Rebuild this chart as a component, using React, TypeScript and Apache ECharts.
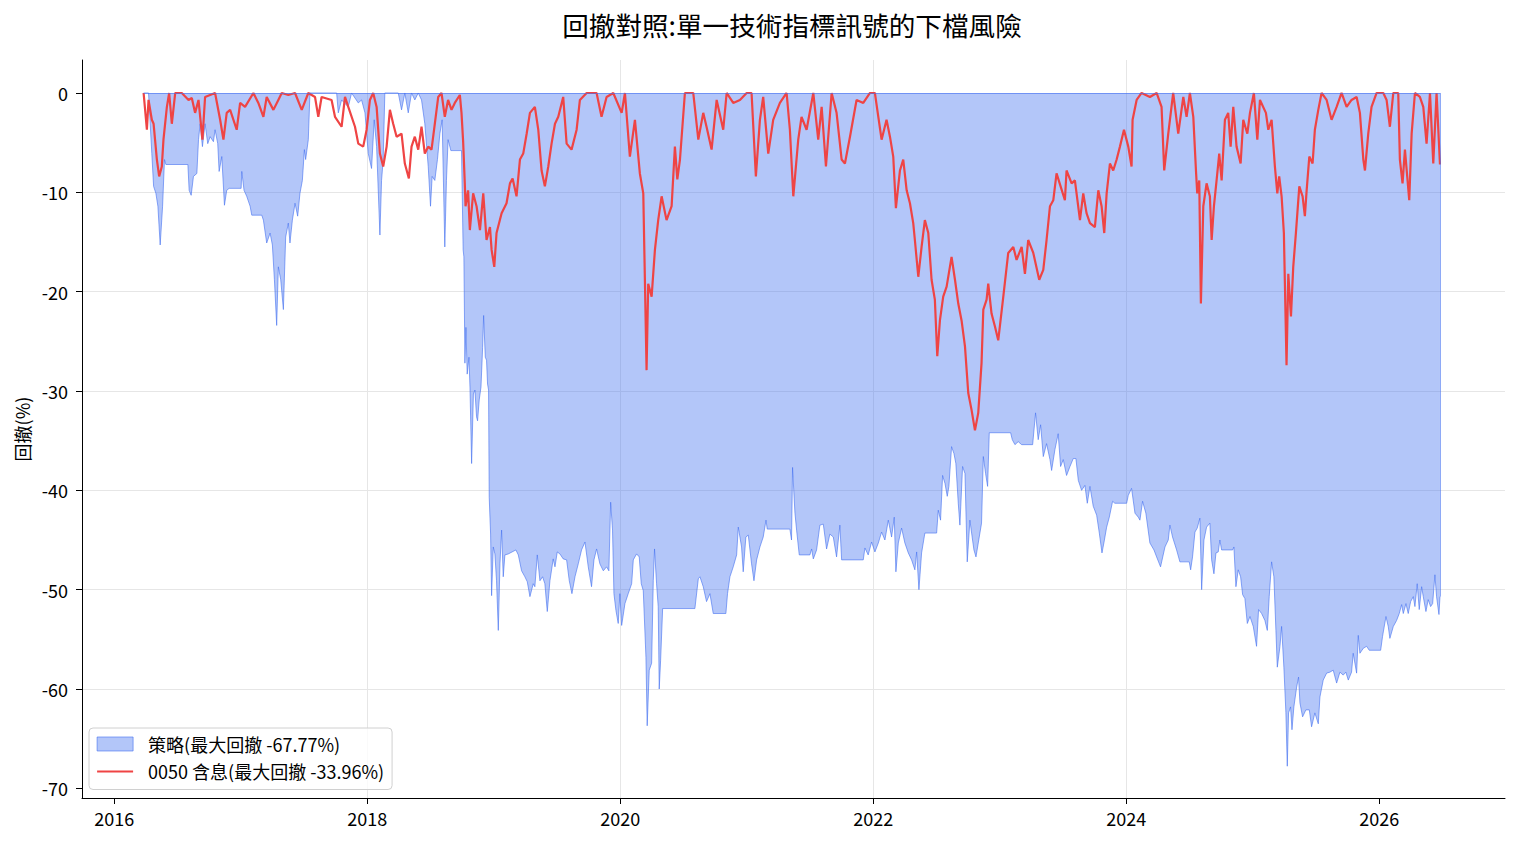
import React, { useEffect, useRef } from 'react';
import * as echarts from 'echarts';

const TITLE = '回撤對照:單一技術指標訊號的下檔風險';
const Y_NAME = '回撤(%)';
const STRATEGY_NAME = '策略(最大回撤 -67.77%)';
const BENCH_NAME = '0050 含息(最大回撤 -33.96%)';
const X_TICKS = [2016, 2018, 2020, 2022, 2024, 2026];
const Y_TICKS = [0, -10, -20, -30, -40, -50, -60, -70];

// [decimal year, drawdown %]
const STRATEGY: [number, number][] = [
  [2016.232,0],[2016.271,0],[2016.284,-3.1],[2016.297,-6.1],[2016.311,-9.4],[2016.329,-10.1],[2016.345,-11.4],[2016.363,-15.3],[2016.382,-11.4],[2016.397,-6.7],[2016.408,-7.2],[2016.582,-7.2],[2016.592,-9.8],[2016.608,-10.3],[2016.626,-8.4],[2016.653,-8.1],[2016.666,-4.7],[2016.679,-3.1],[2016.697,-5.4],[2016.718,-3.1],[2016.739,-5.1],[2016.758,-4.4],[2016.784,-4.9],[2016.797,-3.7],[2016.818,-5.1],[2016.829,-7.9],[2016.850,-6.4],[2016.871,-11.3],[2016.889,-9.8],[2016.908,-9.6],[2017.003,-9.6],[2017.008,-7.9],[2017.026,-9.8],[2017.047,-10.4],[2017.074,-11.4],[2017.087,-12.3],[2017.166,-12.3],[2017.179,-12.8],[2017.205,-15.1],[2017.232,-14.1],[2017.250,-15.3],[2017.266,-18.8],[2017.284,-23.4],[2017.297,-17.5],[2017.316,-18.8],[2017.337,-21.8],[2017.355,-14.5],[2017.376,-13.1],[2017.389,-15.1],[2017.408,-12.8],[2017.429,-11.1],[2017.450,-12.4],[2017.468,-10.1],[2017.487,-8.8],[2017.503,-5.7],[2017.513,-6.7],[2017.534,-4.7],[2017.547,0],[2017.758,0],[2017.771,-2.0],[2017.797,-0.7],[2017.850,-1.4],[2017.876,0],[2017.929,-1.0],[2017.955,-0.7],[2017.982,-2.0],[2018.008,-6.1],[2018.034,-7.6],[2018.055,-2.7],[2018.074,-5.4],[2018.100,-14.3],[2018.113,-8.8],[2018.126,-6.7],[2018.139,0],[2018.245,0],[2018.271,-1.7],[2018.297,0],[2018.324,-2.0],[2018.350,0],[2018.376,-0.7],[2018.403,0],[2018.429,-0.7],[2018.455,-3.1],[2018.482,-7.4],[2018.500,-11.4],[2018.513,-8.4],[2018.534,-8.8],[2018.555,-6.7],[2018.574,-4.1],[2018.592,-2.7],[2018.613,-15.5],[2018.626,-8.8],[2018.639,-4.7],[2018.661,-5.8],[2018.745,-5.8],[2018.758,-15.8],[2018.764,-16.5],[2018.772,-27.2],[2018.780,-23.6],[2018.790,-28.3],[2018.804,-26.6],[2018.812,-29.6],[2018.825,-37.3],[2018.839,-30.3],[2018.851,-29.9],[2018.864,-32.6],[2018.872,-33.0],[2018.885,-30.9],[2018.899,-29.6],[2018.912,-25.6],[2018.920,-22.4],[2018.933,-26.6],[2018.943,-26.9],[2018.951,-29.3],[2018.959,-29.9],[2018.964,-40.7],[2018.975,-44.4],[2018.983,-50.6],[2018.996,-45.7],[2019.009,-46.4],[2019.022,-49.1],[2019.036,-54.1],[2019.049,-47.4],[2019.062,-44.0],[2019.075,-48.7],[2019.088,-46.5],[2019.115,-46.4],[2019.175,-46.0],[2019.194,-46.5],[2019.220,-48.1],[2019.246,-48.7],[2019.265,-49.2],[2019.286,-50.7],[2019.312,-49.4],[2019.325,-49.7],[2019.344,-46.5],[2019.365,-49.1],[2019.386,-48.7],[2019.404,-49.4],[2019.423,-52.2],[2019.444,-49.1],[2019.470,-46.9],[2019.484,-47.7],[2019.502,-46.2],[2019.523,-46.4],[2019.549,-46.9],[2019.576,-47.0],[2019.597,-49.1],[2019.618,-50.4],[2019.642,-48.7],[2019.668,-47.4],[2019.694,-46.0],[2019.721,-45.2],[2019.747,-47.7],[2019.773,-49.7],[2019.792,-47.0],[2019.813,-45.9],[2019.839,-47.4],[2019.866,-48.1],[2019.892,-47.7],[2019.910,-48.1],[2019.924,-41.2],[2019.939,-44.0],[2019.950,-50.4],[2019.966,-52.1],[2019.984,-53.4],[2019.997,-50.4],[2020.011,-53.6],[2020.037,-51.4],[2020.063,-50.4],[2020.090,-49.4],[2020.103,-47.0],[2020.129,-46.4],[2020.150,-46.7],[2020.166,-49.4],[2020.182,-50.1],[2020.203,-56.8],[2020.213,-63.7],[2020.229,-58.1],[2020.248,-57.4],[2020.261,-49.1],[2020.271,-45.9],[2020.287,-49.4],[2020.300,-51.7],[2020.308,-60.0],[2020.319,-57.1],[2020.335,-51.9],[2020.590,-51.9],[2020.617,-48.9],[2020.630,-48.7],[2020.656,-49.7],[2020.682,-51.2],[2020.709,-50.4],[2020.735,-52.4],[2020.835,-52.4],[2020.848,-50.4],[2020.867,-48.7],[2020.893,-47.7],[2020.920,-46.5],[2020.933,-43.7],[2020.959,-45.7],[2020.972,-48.2],[2020.993,-44.7],[2021.012,-44.5],[2021.038,-47.4],[2021.057,-49.1],[2021.078,-47.0],[2021.104,-45.7],[2021.130,-44.7],[2021.152,-43.0],[2021.162,-43.9],[2021.341,-43.9],[2021.354,-45.0],[2021.362,-37.7],[2021.381,-42.3],[2021.394,-44.0],[2021.415,-46.5],[2021.499,-46.5],[2021.513,-45.9],[2021.526,-46.9],[2021.552,-46.0],[2021.578,-43.5],[2021.605,-43.4],[2021.631,-45.9],[2021.657,-44.4],[2021.684,-44.7],[2021.710,-46.7],[2021.736,-43.5],[2021.750,-47.0],[2021.921,-47.0],[2021.934,-45.8],[2021.960,-46.5],[2021.987,-45.2],[2022.013,-46.2],[2022.040,-45.3],[2022.066,-44.2],[2022.092,-45.0],[2022.119,-43.0],[2022.145,-44.7],[2022.166,-42.7],[2022.179,-48.2],[2022.198,-45.3],[2022.224,-43.8],[2022.250,-45.3],[2022.277,-46.3],[2022.303,-47.0],[2022.329,-48.0],[2022.343,-46.2],[2022.361,-50.0],[2022.382,-46.3],[2022.408,-44.3],[2022.501,-44.3],[2022.514,-42.0],[2022.532,-43.0],[2022.548,-38.5],[2022.567,-39.3],[2022.585,-40.6],[2022.598,-39.6],[2022.619,-35.6],[2022.638,-36.3],[2022.653,-37.3],[2022.672,-41.3],[2022.685,-43.5],[2022.706,-37.6],[2022.725,-38.3],[2022.743,-47.2],[2022.764,-43.0],[2022.785,-45.0],[2022.796,-46.0],[2022.812,-46.7],[2022.830,-45.3],[2022.856,-43.3],[2022.870,-36.6],[2022.888,-38.3],[2022.904,-39.6],[2022.917,-34.2],[2023.086,-34.2],[2023.099,-34.9],[2023.120,-35.4],[2023.146,-35.1],[2023.173,-35.4],[2023.260,-35.4],[2023.283,-32.2],[2023.304,-34.9],[2023.323,-33.4],[2023.344,-36.6],[2023.370,-35.3],[2023.397,-36.9],[2023.410,-38.0],[2023.436,-35.9],[2023.462,-34.3],[2023.481,-37.6],[2023.502,-36.9],[2023.528,-38.5],[2023.555,-37.6],[2023.581,-36.8],[2023.602,-36.8],[2023.621,-39.0],[2023.647,-40.0],[2023.673,-39.5],[2023.692,-41.3],[2023.713,-39.6],[2023.739,-41.6],[2023.766,-42.5],[2023.787,-44.3],[2023.808,-46.3],[2023.823,-45.3],[2023.845,-43.7],[2023.866,-42.7],[2023.892,-41.1],[2023.910,-41.3],[2024.003,-41.3],[2024.016,-40.5],[2024.042,-39.8],[2024.069,-42.3],[2024.095,-42.7],[2024.108,-43.0],[2024.129,-41.1],[2024.155,-42.3],[2024.187,-45.3],[2024.219,-46.0],[2024.240,-46.7],[2024.271,-47.7],[2024.306,-45.7],[2024.332,-45.0],[2024.345,-43.5],[2024.366,-44.7],[2024.398,-46.0],[2024.424,-47.2],[2024.498,-47.2],[2024.509,-48.0],[2024.524,-46.7],[2024.543,-44.2],[2024.561,-43.8],[2024.582,-42.8],[2024.596,-50.0],[2024.614,-45.0],[2024.635,-43.7],[2024.661,-43.3],[2024.675,-47.0],[2024.693,-48.4],[2024.709,-46.3],[2024.727,-46.2],[2024.740,-45.0],[2024.754,-46.0],[2024.841,-46.0],[2024.851,-45.7],[2024.867,-49.7],[2024.885,-48.0],[2024.904,-48.7],[2024.920,-50.5],[2024.938,-50.9],[2024.957,-53.4],[2024.978,-52.7],[2025.004,-53.7],[2025.030,-55.7],[2025.046,-52.0],[2025.070,-52.4],[2025.096,-53.1],[2025.115,-54.1],[2025.130,-50.7],[2025.149,-47.2],[2025.167,-48.7],[2025.183,-54.1],[2025.194,-57.8],[2025.215,-55.7],[2025.228,-53.7],[2025.246,-57.8],[2025.262,-62.4],[2025.273,-67.77],[2025.283,-62.4],[2025.299,-61.8],[2025.310,-64.1],[2025.325,-61.8],[2025.347,-59.8],[2025.362,-58.8],[2025.373,-61.4],[2025.394,-62.8],[2025.420,-62.1],[2025.447,-62.1],[2025.465,-63.8],[2025.491,-62.4],[2025.518,-63.5],[2025.531,-60.8],[2025.557,-59.1],[2025.584,-58.4],[2025.610,-58.3],[2025.636,-58.1],[2025.663,-59.4],[2025.689,-58.3],[2025.715,-58.6],[2025.736,-58.3],[2025.755,-59.1],[2025.781,-58.3],[2025.794,-56.4],[2025.821,-58.4],[2025.834,-54.6],[2025.847,-56.4],[2025.874,-55.9],[2025.900,-55.7],[2025.921,-56.1],[2026.011,-56.1],[2026.026,-54.7],[2026.053,-52.7],[2026.071,-53.7],[2026.084,-54.9],[2026.111,-53.7],[2026.137,-53.1],[2026.158,-52.4],[2026.177,-51.5],[2026.190,-52.4],[2026.211,-51.4],[2026.229,-52.4],[2026.248,-51.2],[2026.269,-50.7],[2026.282,-51.7],[2026.300,-49.4],[2026.316,-52.0],[2026.335,-49.7],[2026.348,-50.7],[2026.369,-52.2],[2026.387,-51.0],[2026.406,-51.7],[2026.422,-51.4],[2026.440,-48.5],[2026.453,-50.7],[2026.472,-52.5],[2026.480,-50.7]
];

const BENCHMARK: [number, number][] = [
  [2016.232,0],[2016.258,-3.7],[2016.271,-0.7],[2016.297,-2.7],[2016.311,-3.1],[2016.337,-6.7],[2016.355,-8.4],[2016.376,-7.4],[2016.389,-4.7],[2016.416,-1.4],[2016.434,0],[2016.455,-3.1],[2016.482,0],[2016.534,0],[2016.587,-0.7],[2016.613,-0.5],[2016.639,-2.0],[2016.666,-0.7],[2016.697,-4.7],[2016.718,-0.4],[2016.797,0],[2016.837,-2.7],[2016.863,-4.7],[2016.889,-2.0],[2016.916,-1.7],[2016.968,-3.7],[2016.995,-1.0],[2017.034,-1.4],[2017.100,0],[2017.139,-1.0],[2017.179,-2.4],[2017.205,-0.4],[2017.258,-1.7],[2017.297,-0.7],[2017.324,0],[2017.376,-0.2],[2017.429,0],[2017.482,-1.7],[2017.534,0],[2017.587,-0.4],[2017.613,-2.4],[2017.639,-0.4],[2017.718,-0.7],[2017.745,-2.4],[2017.797,-3.4],[2017.824,-0.4],[2017.850,-1.4],[2017.903,-3.4],[2017.929,-5.1],[2017.968,-5.4],[2017.995,-3.7],[2018.021,-0.7],[2018.047,0],[2018.074,-1.4],[2018.100,-6.1],[2018.126,-7.4],[2018.153,-5.4],[2018.179,-1.7],[2018.205,-3.1],[2018.232,-4.4],[2018.271,-4.1],[2018.297,-7.1],[2018.329,-8.6],[2018.350,-5.4],[2018.376,-4.4],[2018.403,-5.7],[2018.429,-3.4],[2018.455,-6.1],[2018.482,-5.4],[2018.508,-5.7],[2018.534,-3.1],[2018.561,-0.4],[2018.587,0],[2018.613,-2.4],[2018.639,-0.7],[2018.666,-1.7],[2018.692,-1.0],[2018.732,-0.2],[2018.745,-2.0],[2018.758,-4.9],[2018.771,-9.1],[2018.777,-11.4],[2018.797,-9.8],[2018.811,-13.8],[2018.837,-10.1],[2018.864,-11.4],[2018.891,-13.8],[2018.917,-10.1],[2018.943,-14.8],[2018.970,-13.5],[2018.983,-15.8],[2019.004,-17.5],[2019.022,-14.1],[2019.062,-12.1],[2019.101,-11.1],[2019.128,-9.1],[2019.149,-8.6],[2019.180,-10.4],[2019.207,-6.7],[2019.233,-6.1],[2019.260,-4.1],[2019.286,-2.0],[2019.325,-1.4],[2019.352,-3.7],[2019.378,-7.8],[2019.404,-9.4],[2019.431,-7.4],[2019.457,-5.1],[2019.484,-3.1],[2019.510,-2.4],[2019.549,-0.4],[2019.576,-5.1],[2019.615,-5.7],[2019.655,-3.7],[2019.681,-0.7],[2019.734,0],[2019.813,0],[2019.852,-2.4],[2019.892,-0.4],[2019.945,0],[2020.011,-2.0],[2020.037,0],[2020.076,-6.4],[2020.116,-2.7],[2020.155,-8.1],[2020.182,-10.1],[2020.208,-27.9],[2020.221,-19.2],[2020.248,-20.5],[2020.274,-15.8],[2020.300,-12.8],[2020.327,-10.4],[2020.366,-12.8],[2020.406,-11.4],[2020.432,-5.4],[2020.451,-8.7],[2020.472,-6.7],[2020.511,0],[2020.577,0],[2020.617,-4.7],[2020.656,-2.0],[2020.682,-3.4],[2020.722,-5.7],[2020.762,-0.7],[2020.814,-3.7],[2020.841,0],[2020.893,-1.0],[2020.946,-0.7],[2020.999,0],[2021.038,0],[2021.072,-8.4],[2021.104,-2.7],[2021.130,-0.4],[2021.170,-6.1],[2021.209,-2.7],[2021.262,-1.0],[2021.315,0],[2021.341,-3.7],[2021.368,-10.4],[2021.407,-4.7],[2021.433,-2.4],[2021.473,-3.7],[2021.526,0],[2021.565,-4.7],[2021.592,-1.4],[2021.626,-7.4],[2021.671,0],[2021.710,-2.0],[2021.750,-6.7],[2021.776,-7.1],[2021.816,-4.4],[2021.868,-0.7],[2021.921,-1.0],[2021.974,0],[2022.013,0],[2022.040,-2.4],[2022.066,-4.7],[2022.105,-2.7],[2022.132,-4.4],[2022.158,-6.4],[2022.179,-11.6],[2022.211,-7.8],[2022.237,-6.7],[2022.264,-9.8],[2022.290,-11.1],[2022.316,-13.1],[2022.329,-14.8],[2022.356,-18.5],[2022.382,-15.5],[2022.408,-12.8],[2022.435,-14.1],[2022.461,-18.8],[2022.487,-20.8],[2022.506,-26.5],[2022.527,-22.9],[2022.553,-20.5],[2022.580,-19.5],[2022.619,-16.5],[2022.646,-18.8],[2022.672,-21.2],[2022.698,-22.9],[2022.725,-25.5],[2022.751,-30.2],[2022.777,-31.9],[2022.804,-33.96],[2022.830,-32.2],[2022.856,-27.2],[2022.870,-21.8],[2022.896,-20.8],[2022.909,-19.2],[2022.935,-22.2],[2022.962,-23.5],[2022.988,-24.9],[2023.028,-20.5],[2023.067,-16.1],[2023.107,-15.5],[2023.133,-16.8],[2023.173,-15.5],[2023.199,-18.2],[2023.225,-14.8],[2023.265,-16.1],[2023.312,-18.8],[2023.344,-17.8],[2023.370,-14.8],[2023.397,-11.4],[2023.423,-10.8],[2023.449,-8.1],[2023.481,-9.4],[2023.515,-10.8],[2023.528,-7.8],[2023.568,-9.1],[2023.594,-8.8],[2023.634,-12.8],[2023.660,-10.1],[2023.686,-12.1],[2023.713,-13.1],[2023.752,-13.5],[2023.779,-9.8],[2023.805,-11.4],[2023.826,-14.1],[2023.845,-10.1],[2023.871,-7.1],[2023.897,-7.8],[2023.924,-6.7],[2023.950,-5.4],[2023.982,-3.7],[2024.016,-5.4],[2024.042,-7.4],[2024.050,-2.7],[2024.082,-0.7],[2024.121,0],[2024.187,-0.4],[2024.240,0],[2024.279,-1.4],[2024.300,-7.8],[2024.332,-4.1],[2024.371,0],[2024.411,-4.1],[2024.451,-0.4],[2024.477,-2.4],[2024.503,0],[2024.530,-2.4],[2024.551,-7.8],[2024.561,-10.1],[2024.577,-8.8],[2024.590,-21.2],[2024.609,-11.4],[2024.635,-9.1],[2024.661,-10.4],[2024.675,-14.8],[2024.693,-11.4],[2024.714,-8.8],[2024.735,-6.1],[2024.754,-8.8],[2024.780,-2.7],[2024.806,-2.0],[2024.825,-5.4],[2024.846,-1.4],[2024.872,-5.4],[2024.904,-7.1],[2024.925,-2.7],[2024.957,-4.1],[2024.978,-2.0],[2025.009,0],[2025.036,-4.7],[2025.057,-0.7],[2025.104,-2.0],[2025.123,-3.7],[2025.149,-2.7],[2025.175,-7.4],[2025.194,-10.1],[2025.209,-8.4],[2025.228,-10.4],[2025.246,-14.1],[2025.267,-27.4],[2025.281,-18.2],[2025.302,-22.5],[2025.320,-17.5],[2025.341,-14.1],[2025.368,-9.4],[2025.394,-10.4],[2025.412,-12.4],[2025.426,-9.8],[2025.447,-6.4],[2025.473,-7.1],[2025.491,-3.7],[2025.518,-1.7],[2025.544,0],[2025.584,-0.7],[2025.623,-2.7],[2025.663,-1.4],[2025.702,0],[2025.742,-1.4],[2025.781,-0.7],[2025.821,-0.4],[2025.847,-2.0],[2025.874,-6.7],[2025.887,-7.8],[2025.913,-4.1],[2025.939,-1.4],[2025.979,0],[2026.032,0],[2026.058,-0.7],[2026.084,-3.4],[2026.111,0],[2026.150,0],[2026.163,-6.7],[2026.184,-9.1],[2026.203,-5.7],[2026.221,-8.4],[2026.237,-10.8],[2026.256,-4.1],[2026.282,0],[2026.321,-0.4],[2026.348,-1.4],[2026.374,-5.1],[2026.401,0],[2026.427,-7.1],[2026.453,0],[2026.480,-7.2]
];

const FONT = '"Noto Sans CJK TC", "Noto Sans CJK SC", "Noto Sans", sans-serif';
const BLUE_FILL = 'rgba(66,112,240,0.4)';
const BLUE_EDGE = 'rgba(66,112,240,0.6)';
const RED = '#ef4444';

export default function App() {
  const ref = useRef<HTMLDivElement>(null);
  useEffect(() => {
    if (!ref.current) return;
    const chart = echarts.init(ref.current, null, { renderer: 'svg' });
    const first = STRATEGY[0];
    const last = STRATEGY[STRATEGY.length - 1];
    chart.setOption({
      animation: false,
      textStyle: { fontFamily: FONT },
      graphic: [
        {
          type: 'text',
          x: 792,
          y: 24,
          style: {
            text: TITLE,
            fontSize: 26.6,
            fontFamily: FONT,
            fill: '#000',
            align: 'center',
            verticalAlign: 'middle',
            textAlign: 'center',
            textVerticalAlign: 'middle',
          },
        },
        {
          type: 'text',
          x: 22,
          y: 429,
          rotation: Math.PI / 2,
          style: {
            text: Y_NAME,
            fontSize: 18,
            fontFamily: FONT,
            fill: '#000',
            align: 'center',
            verticalAlign: 'middle',
            textAlign: 'center',
            textVerticalAlign: 'middle',
          },
        },
      ],
      grid: { left: 82, right: 11, top: 60, bottom: 46, containLabel: false },
      legend: {
        orient: 'vertical',
        left: 89,
        top: 728,
        padding: [7, 8, 9, 7],
        itemGap: 9.5,
        itemWidth: 36,
        itemHeight: 14,
        backgroundColor: 'rgba(255,255,255,0.8)',
        borderColor: '#d0d0d0',
        borderWidth: 1,
        borderRadius: 4,
        textStyle: { fontSize: 18, color: '#000', fontFamily: FONT, padding: [0, 0, 0, 10] },
        data: [
          {
            name: STRATEGY_NAME,
            icon: 'rect',
            itemStyle: { color: BLUE_FILL, borderColor: BLUE_EDGE, borderWidth: 1, opacity: 1 },
          },
          {
            name: BENCH_NAME,
            itemStyle: { opacity: 0 },
            lineStyle: { color: RED, width: 2.2, opacity: 1 },
          },
        ],
      },
      xAxis: {
        type: 'value',
        min: 2015.745,
        max: 2026.994,
        splitNumber: 5,
        axisLine: { onZero: false, lineStyle: { color: '#000', width: 1 } },
        axisTick: { show: true, length: 6, lineStyle: { color: '#000' }, customValues: X_TICKS },
        axisLabel: {
          customValues: X_TICKS,
          fontSize: 18,
          color: '#000',
          fontFamily: FONT,
          margin: 11,
          formatter: (v: number) => String(Math.round(v)),
        },
        splitLine: { show: true, showMinLine: false, showMaxLine: false, lineStyle: { color: '#e6e6e6', width: 1 } },
      },
      yAxis: {
        type: 'value',
        min: -70.97,
        max: 3.32,
        splitNumber: 7,
        axisLine: { show: true, onZero: false, lineStyle: { color: '#000', width: 1 } },
        axisTick: { show: true, length: 6, lineStyle: { color: '#000' }, customValues: Y_TICKS },
        axisLabel: {
          customValues: Y_TICKS,
          fontSize: 18,
          color: '#000',
          fontFamily: FONT,
          margin: 14,
          formatter: (v: number) => String(Math.round(v)),
        },
        splitLine: { show: true, showMinLine: false, showMaxLine: false, lineStyle: { color: '#e6e6e6', width: 1 } },
      },
      series: [
        {
          name: STRATEGY_NAME,
          type: 'line',
          data: STRATEGY,
          symbol: 'none',
          showSymbol: false,
          itemStyle: { color: BLUE_FILL },
          lineStyle: { color: BLUE_EDGE, width: 1 },
          areaStyle: { color: BLUE_FILL, opacity: 1, origin: 'auto' },
          z: 2,
          markLine: {
            silent: true,
            symbol: ['none', 'none'],
            label: { show: false },
            lineStyle: { color: BLUE_EDGE, width: 1, type: 'solid' },
            data: [
              [{ coord: [first[0], 0] }, { coord: [last[0], 0] }],
              [{ coord: [last[0], 0] }, { coord: [last[0], last[1]] }],
            ],
          },
        },
        {
          name: BENCH_NAME,
          type: 'line',
          data: BENCHMARK,
          symbol: 'none',
          showSymbol: false,
          itemStyle: { color: RED },
          lineStyle: { color: RED, width: 2.2 },
          z: 3,
        },
      ],
    });
    return () => chart.dispose();
  }, []);
  return (
    <div
      ref={ref}
      style={{ position: 'fixed', left: 0, top: 0, width: 1516, height: 844, background: '#fff' }}
    />
  );
}
